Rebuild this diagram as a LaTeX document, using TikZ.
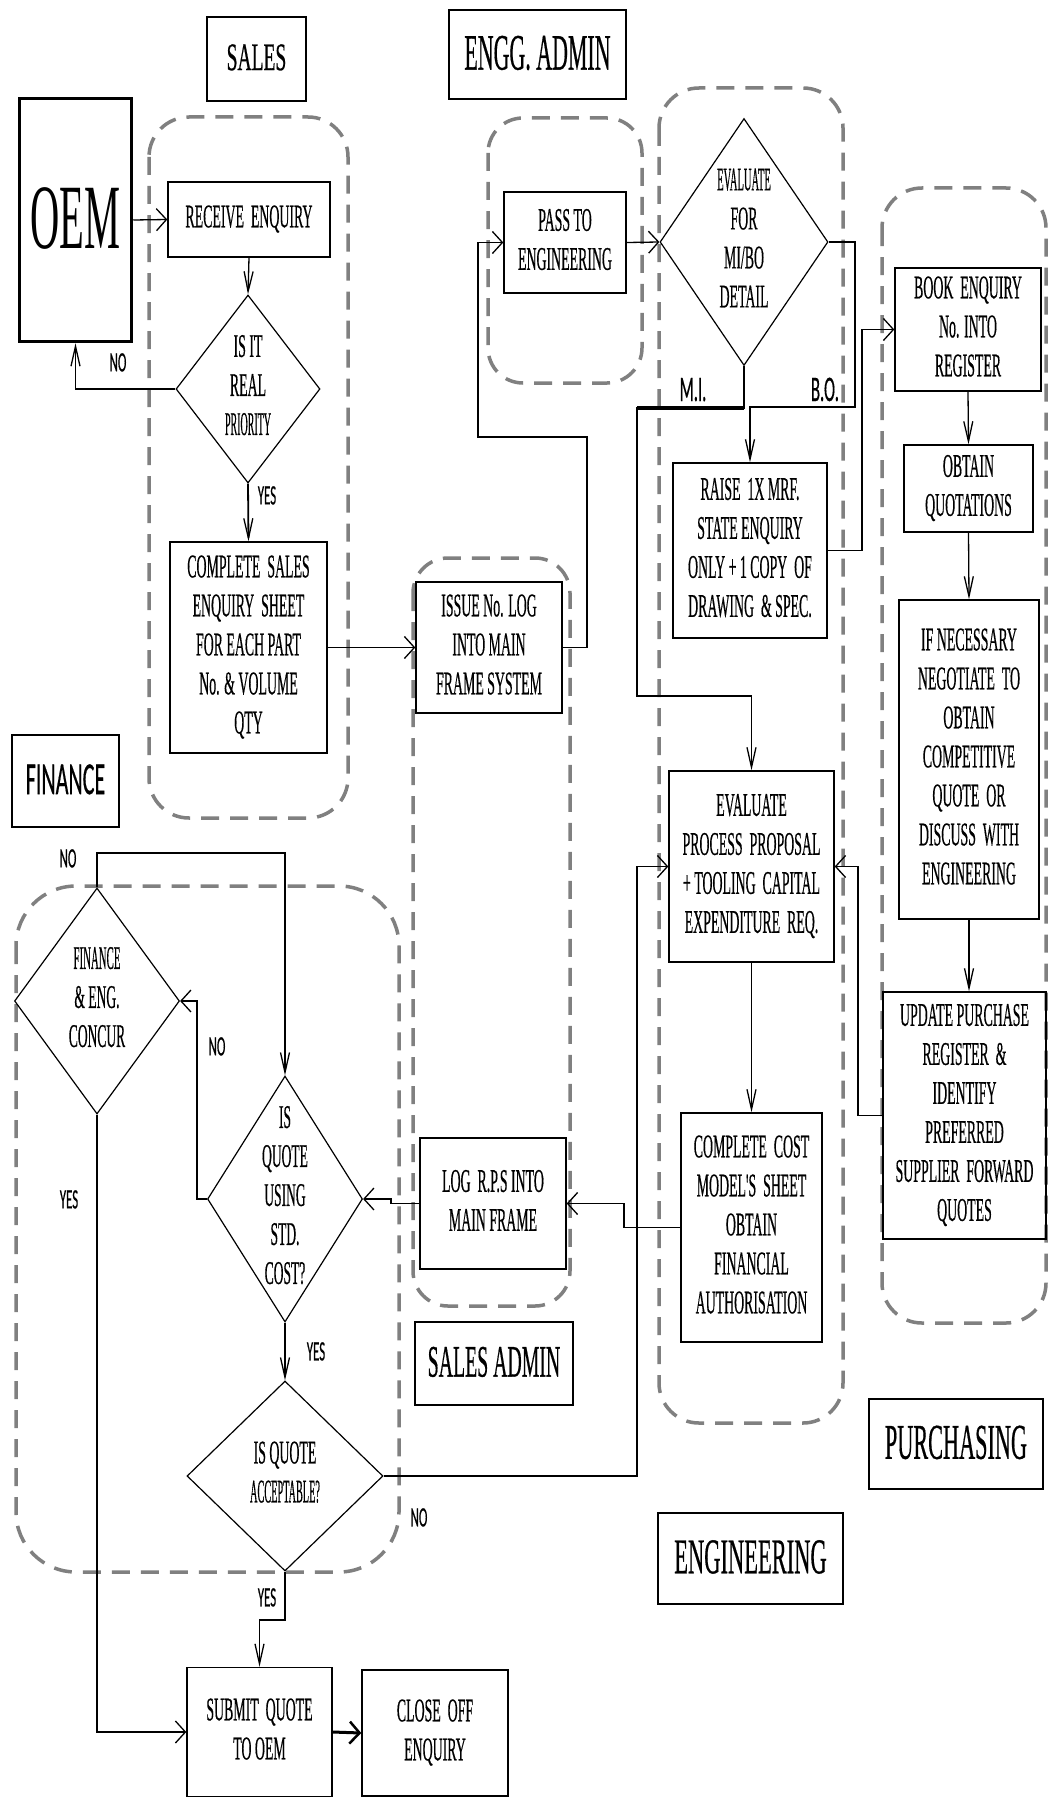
\documentclass[tikz,border=0pt]{standalone}
\usepackage{fontspec}
\setmainfont{Liberation Serif}
\newfontfamily\boxfont[FakeBold=0.7]{Liberation Serif}
\newfontfamily\lblfont[FakeBold=0.6]{Carlito}
\usepackage{graphicx}
\usetikzlibrary{shapes.geometric,arrows.meta,calc}
\newcommand{\sqz}[2]{\scalebox{#1}[1]{\begin{tabular}{@{}c@{}}#2\end{tabular}}}
\newcommand{\dtext}[2]{\smash{\makebox[0pt]{\raisebox{-0.35ex}{\sqz{#1}{#2}}}}}
\tikzset{
 box/.style={draw, line width=1.4pt, inner sep=0pt, font=\boxfont\fontsize{33}{39}\selectfont},
 dia/.style={draw, diamond, line width=1.2pt, inner sep=0pt, font=\boxfont\fontsize{33}{39}\selectfont},
 title/.style={draw, line width=1.4pt, inner sep=0pt, font=\boxfont},
 region/.style={draw=black!50, line width=3.5pt, dash pattern=on 18pt off 11pt, rounded corners=40pt},
 conn/.style={line width=1.3pt},
 harr/.style={conn, -{Straight Barb[length=10pt,width=22pt,line width=1.3pt]}},
 varr/.style={conn, -{Straight Barb[length=20pt,width=9pt,line width=1.3pt]}},
 lbl/.style={font=\lblfont\fontsize{28}{32}\selectfont, inner sep=0pt},
}
\begin{document}
\begin{tikzpicture}[x=1pt,y=-1pt]
\fill[white] (0,0) rectangle (1048,1798);
\useasboundingbox (0,0) rectangle (1048,1798);

% dashed regions
\draw[region] (149,117) rectangle (348,818);
\draw[region, rounded corners=35pt] (488,118) rectangle (642,383);
\draw[region] (659,88) rectangle (843,1423);
\draw[region, rounded corners=35pt] (413,558) rectangle (570,1306);
\draw[region] (882,188) rectangle (1046,1323);
\draw[region, rounded corners=60pt] (16,886) rectangle (399,1572);

% title boxes
\node[title, minimum width=99pt, minimum height=84pt] (tsales) at (256.5,59) {\sqz{0.5}{\fontsize{39}{44}\selectfont SALES}\hspace{18pt}};
\node[title, minimum width=177pt, minimum height=89pt] (tengadm) at (537.5,54.5) {\sqz{0.43}{\fontsize{51}{56}\selectfont ENGG. ADMIN}\hspace{8pt}};
\node[title, minimum width=107pt, minimum height=92pt] (tfin) at (65.5,781) {\sqz{0.48}{\lblfont\fontsize{46}{50}\selectfont FINANCE}};
\node[title, minimum width=158pt, minimum height=83pt] (tsadm) at (494,1363.5) {\sqz{0.44}{\fontsize{45}{50}\selectfont SALES ADMIN}};
\node[title, minimum width=174pt, minimum height=90pt] (tpur) at (956,1444) {\sqz{0.445}{\fontsize{50}{56}\selectfont PURCHASING}\hspace{10pt}};
\node[title, minimum width=185pt, minimum height=91pt] (teng) at (750.5,1558.5) {\sqz{0.45}{\fontsize{50}{56}\selectfont ENGINEERING}\hspace{12pt}};

% OEM
\node[draw, line width=3.5pt, inner sep=0pt, minimum width=112pt, minimum height=243pt] (oem) at (75.5,220) {\sqz{0.44}{\fontsize{92}{100}\selectfont OEM}};

% boxes
\node[box, minimum width=162pt, minimum height=75pt] (recv) at (249,219.5) {\sqz{0.42}{RECEIVE~~ENQUIRY}};
\node[dia, minimum width=144pt, minimum height=188pt] (prio) at (248,389) {\dtext{0.42}{IS IT\\REAL\\\scalebox{0.72}[1]{PRIORITY}}};
\node[box, minimum width=157pt, minimum height=211pt] (cs) at (248.5,647.5) {\sqz{0.42}{COMPLETE~~SALES\\ENQUIRY~~SHEET\\FOR EACH PART\\No. \& VOLUME\\QTY}};
\node[box, minimum width=146pt, minimum height=131pt] (issue) at (489,647.5) {\sqz{0.42}{ISSUE No. LOG\\INTO MAIN\\FRAME SYSTEM}};
\node[box, minimum width=122pt, minimum height=101pt] (pass) at (565,242.5) {\sqz{0.42}{PASS TO\\ENGINEERING}};
\node[dia, minimum width=168pt, minimum height=247pt] (eval) at (744,242) {\dtext{0.42}{\scalebox{0.76}[1]{EVALUATE}\\FOR\\MI/BO\\DETAIL}};
\node[box, minimum width=154pt, minimum height=175pt] (raise) at (750,550.5) {\sqz{0.42}{RAISE~~1X MRF.\\STATE ENQUIRY\\ONLY + 1 COPY~~OF\\DRAWING~~\& SPEC.}};
\node[box, minimum width=146pt, minimum height=123pt] (book) at (968,329.5) {\sqz{0.42}{BOOK~~ENQUIRY\\No. INTO\\REGISTER}};
\node[box, minimum width=129pt, minimum height=87pt] (obtain) at (968.5,488.5) {\sqz{0.42}{OBTAIN\\QUOTATIONS}};
\node[box, minimum width=140pt, minimum height=319pt] (ifnec) at (969,759.5) {\sqz{0.42}{IF NECESSARY\\NEGOTIATE~~TO\\OBTAIN\\COMPETITIVE\\QUOTE~~OR\\DISCUSS~~WITH\\ENGINEERING}};
\node[box, minimum width=163pt, minimum height=247pt] (update) at (964.5,1115.5) {\sqz{0.42}{UPDATE PURCHASE\\REGISTER~~\&\\IDENTIFY\\PREFERRED\\SUPPLIER~~FORWARD\\QUOTES}};
\node[box, minimum width=165pt, minimum height=191pt] (evalproc) at (751.5,866.5) {\sqz{0.42}{EVALUATE\\PROCESS~~PROPOSAL\\+ TOOLING~~CAPITAL\\EXPENDITURE~~REQ.}};
\node[box, minimum width=141pt, minimum height=229pt] (cost) at (751.5,1227.5) {\sqz{0.42}{COMPLETE~~COST\\MODEL'S~~SHEET\\OBTAIN\\FINANCIAL\\AUTHORISATION}};
\node[box, minimum width=146pt, minimum height=131pt] (logrps) at (493,1203.5) {\sqz{0.42}{LOG~~R.P.S INTO\\MAIN FRAME}};
\node[dia, minimum width=155pt, minimum height=246pt] (stdcost) at (285,1199) {\dtext{0.41}{IS\\QUOTE\\USING\\STD.\\COST?}};
\node[dia, minimum width=165pt, minimum height=226pt] (concur) at (97,1001) {\dtext{0.41}{\scalebox{0.8}[1]{FINANCE}\\\& ENG.\\CONCUR}};
\node[dia, minimum width=196pt, minimum height=190pt] (accept) at (285,1476) {\dtext{0.42}{IS QUOTE\\\scalebox{0.74}[1]{ACCEPTABLE?}}};
\node[box, minimum width=145pt, minimum height=129pt] (submit) at (259.5,1732) {\sqz{0.42}{SUBMIT~~QUOTE\\TO OEM}};
\node[box, minimum width=146pt, minimum height=126pt] (close) at (435,1733) {\sqz{0.42}{CLOSE~~OFF\\ENQUIRY}};

% connectors
\draw[harr] (oem.east) -- (recv.west);
\draw[varr] (recv.south) -- (prio.north);
\draw[varr] (prio.west) -| (oem.south);
\draw[varr, line width=1.8pt] (prio.south) -- (cs.north);
\draw[harr] (cs.east) -- (issue.west);
\draw[harr] (issue.east) -| (587,437) -| (478,242.5) -- (pass.west);
\draw[harr] (pass.east) -- (eval.west);
\draw[varr] (eval.south) |- (637,408) -- (637,696) -| (evalproc.north);
\draw[line width=4pt] (744,408) -- (637,408);
\draw[varr] (eval.east) -| (855,407) -| (raise.north);
\draw[harr] (raise.east) -| (862,329.5) -- (book.west);
\draw[varr] (book.south) -- (obtain.north);
\draw[varr] (obtain.south) -- (ifnec.north);
\draw[varr] (ifnec.south) -- (ifnec.south |- update.north);
\draw[harr] (update.west) -| (858,866.5) -- (evalproc.east);
\draw[varr] (evalproc.south) -- (cost.north);
\draw[harr] (cost.west) -| (624,1203.5) -- (logrps.east);
\draw[harr] (logrps.west) -| (391,1199) -- (stdcost.east);
\draw[harr] (stdcost.west) -| (197,1001) -- (concur.east);
\draw[varr] (concur.north) |- (285,853) -- (stdcost.north);
\draw[varr] (stdcost.south) -- (accept.north);
\draw[harr] (accept.east) -| (637,866.5) -- (evalproc.west);
\draw[varr] (accept.south) -- (285,1620) -| (submit.north);
\draw[harr] (concur.south) |- (submit.west);
\draw[-{Straight Barb[length=10pt,width=22pt,line width=2.5pt]}, line width=3pt] (submit.east) -- (close.west);

% labels
\node[lbl] (l1) at (118,365) {\sqz{0.46}{NO}};
\node[lbl] (l2) at (267,498) {\sqz{0.46}{YES}};
\node[lbl, font=\lblfont\fontsize{36}{40}\selectfont] (l3) at (693,393) {\sqz{0.46}{M.I.}};
\node[lbl, font=\lblfont\fontsize{36}{40}\selectfont] (l4) at (825,393) {\sqz{0.46}{B.O.}};
\node[lbl] (l5) at (68,861) {\sqz{0.46}{NO}};
\node[lbl] (l6) at (217,1049) {\sqz{0.46}{NO}};
\node[lbl] (l7) at (69,1202) {\sqz{0.46}{YES}};
\node[lbl] (l8) at (316,1354) {\sqz{0.46}{YES}};
\node[lbl] (l9) at (419,1520) {\sqz{0.46}{NO}};
\node[lbl] (l10) at (267,1600) {\sqz{0.46}{YES}};
\end{tikzpicture}
\end{document}
